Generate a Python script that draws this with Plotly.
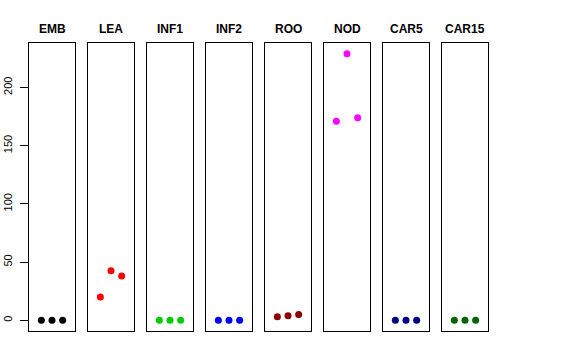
import plotly.graph_objects as go

# ---- data ----
panels = ["EMB", "LEA", "INF1", "INF2", "ROO", "NOD", "CAR5", "CAR15"]
reps = [1, 2, 3]
emb = [0, 0, 0]
lea = [20, 42.5, 38]
inf1 = [0, 0, 0]
inf2 = [0, 0, 0]
roo = [3, 4, 5]
nod = [171, 229, 174]
car5 = [0, 0, 0]
car15 = [0, 0, 0]
values = [emb, lea, inf1, inf2, roo, nod, car5, car15]
colors = ["#000000", "#FF0000", "#00CD00", "#0000FF", "#8B0000", "#FF00FF", "#00008B", "#006400"]
yticks = [0, 50, 100, 150, 200]

W, H = 576, 360
ymax = max(max(v) for v in values)
ymin = min(min(v) for v in values)
yr = [ymin - 0.04 * (ymax - ymin), ymax + 0.04 * (ymax - ymin)]
xr = [0 - 0.04 * 4, 4 + 0.04 * 4]

fig = go.Figure()
layout = dict(width=W, height=H, margin=dict(l=0, r=0, t=0, b=0, pad=0), autosize=False,
              paper_bgcolor="white", plot_bgcolor="white", showlegend=False,
              font=dict(family="Liberation Sans, Arial, sans-serif", color="black", size=12))
annotations = []
ydom = [1 - 331 / H, 1 - 43 / H]
for i, (name, vals, col) in enumerate(zip(panels, values, colors)):
    n = "" if i == 0 else str(i + 1)
    fig.add_trace(go.Scatter(x=reps, y=vals, mode="markers",
                             marker=dict(color=col, size=7),
                             xaxis="x" + n, yaxis="y" + n))
    left = (29 + 59 * i) / W
    right = (75 + 59 * i) / W
    layout["xaxis" + n] = dict(domain=[left, right], range=xr, anchor="y" + n, automargin=False,
                               showline=True, mirror=True, linecolor="black", linewidth=1,
                               showgrid=False, zeroline=False, showticklabels=False, ticks="")
    ya = dict(domain=ydom, range=yr, anchor="x" + n, automargin=False,
              showline=True, mirror=True, linecolor="black", linewidth=1,
              showgrid=False, zeroline=False)
    if i == 0:
        ya.update(ticks="outside", ticklen=8, tickcolor="black", tickvals=yticks,
                  tickangle=-90, tickfont=dict(size=11, color="black"), showticklabels=True,
                  ticklabelstandoff=4)
    else:
        ya.update(showticklabels=False, ticks="")
    layout["yaxis" + n] = ya
    annotations.append(dict(text="<b>%s</b>" % name, x=(left + right) / 2, y=1 - 29 / H,
                            xref="paper", yref="paper", xanchor="center", yanchor="middle",
                            showarrow=False, font=dict(size=12, color="black")))
layout["annotations"] = annotations
fig.update_layout(**layout)
fig.write_html("out.html", config={"displayModeBar": False},
               post_script="document.body.style.margin='0';")
